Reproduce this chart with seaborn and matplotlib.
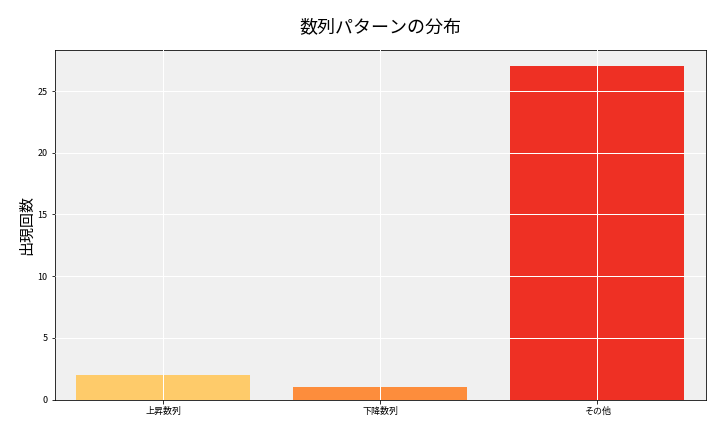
import matplotlib
matplotlib.use("Agg")
import matplotlib.pyplot as plt
import seaborn as sns
import pandas as pd

categories = ["上昇数列", "下降数列", "その他"]
counts = [2, 1, 27]
colors = ["#FECB6A", "#FD8D3C", "#EE3024"]

plt.rcParams['font.family'] = ['Noto Sans CJK JP', 'DejaVu Sans']
fig, ax = plt.subplots(figsize=(10, 6), dpi=72)
df = pd.DataFrame({"cat": categories, "n": counts})
sns.barplot(data=df, x="cat", y="n", hue="cat", palette=colors, legend=False, ax=ax, width=0.8, saturation=1)
ax.set_facecolor("#F0F0F0")
ax.set_axisbelow(False)
ax.grid(True, color="white", linewidth=1)
ax.set_xlabel("")
ax.set_ylabel("出現回数", fontsize=15)
ax.set_title("数列パターンの分布", fontsize=18, pad=18)
ax.tick_params(labelsize=9)
ax.set_ylim(0, 28.35)
fig.subplots_adjust(left=0.076, right=0.98, top=0.885, bottom=0.075)
fig.savefig("out.png")
